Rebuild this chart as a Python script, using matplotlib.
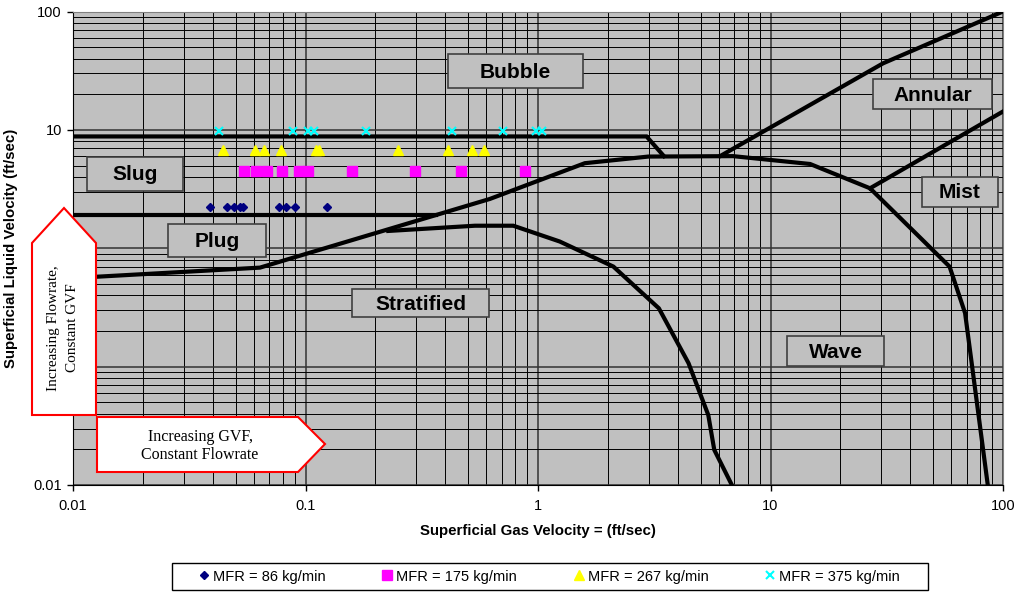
import matplotlib
matplotlib.use("Agg")
import matplotlib.pyplot as plt
from matplotlib.patches import Rectangle, Polygon
from matplotlib.ticker import LogLocator, FixedLocator, FixedFormatter, NullFormatter

plt.rcParams['font.family'] = ['Liberation Sans', 'DejaVu Sans']

# measured points, MFR series
x86 = [0.0387, 0.0458, 0.0494, 0.0523, 0.054, 0.0772, 0.0826, 0.0902, 0.1237]
y86 = [2.22] * len(x86)
x175 = [0.0545, 0.0614, 0.0683, 0.079, 0.094, 0.103, 0.158, 0.297, 0.468, 0.879]
y175 = [4.5] * len(x175)
x267 = [0.0443, 0.0607, 0.0665, 0.0782, 0.111, 0.1146, 0.249, 0.409, 0.52, 0.586]
y267 = [6.8] * len(x267)
x375 = [0.0425, 0.0887, 0.1022, 0.109, 0.1815, 0.426, 0.705, 0.977, 1.043]
y375 = [9.8] * len(x375)

# flow regime boundaries
bubble_x = [0.01, 2.93, 3.48]
bubble_y = [8.8, 8.8, 6.0]
main_x = [0.01, 0.0637, 0.621, 1.59, 2.98, 6.9, 14.8, 26.8, 58.9, 68.7, 86.0]
main_y = [0.56, 0.686, 2.61, 5.23, 5.95, 6.0, 5.15, 3.21, 0.70, 0.283, 0.01]
plug_x = [0.01, 0.364]
plug_y = [1.91, 1.91]
strat_x = [0.227, 0.536, 0.783, 1.24, 2.11, 3.31, 4.44, 5.40, 5.73, 6.82]
strat_y = [1.40, 1.55, 1.55, 1.14, 0.70, 0.311, 0.107, 0.039, 0.0198, 0.01]
ann_x = [6.07, 30.5, 100]
ann_y = [6.0, 36.5, 100]
mist_x = [26.8, 100]
mist_y = [3.21, 14.3]

ticks = [0.01, 0.1, 1, 10, 100]
xtick_labels = ['0.01', '0.1', '1', '10', '100']
# 0.1 and 1 sit under the arrow box in the original, so they are not shown
ytick_labels = ['0.01', '', '', '10', '100']

W, H = 1018, 592


def fx(x):
    return x / W


def fy(y):
    return 1 - y / H


fig = plt.figure(figsize=(W / 100, H / 100), dpi=100)
ax = fig.add_axes([fx(73), fy(485), (1003 - 73) / W, (485 - 11.5) / H])
ax.set_facecolor('#C0C0C0')
ax.set_xscale('log')
ax.set_yscale('log')
ax.set_xlim(0.01, 100)
ax.set_ylim(0.01, 100)

for axis, labs in ((ax.xaxis, xtick_labels), (ax.yaxis, ytick_labels)):
    axis.set_major_locator(FixedLocator(ticks))
    axis.set_major_formatter(FixedFormatter(labs))
    axis.set_minor_locator(LogLocator(base=10, subs=range(2, 10), numticks=20))
    axis.set_minor_formatter(NullFormatter())

ax.set_axisbelow(True)
ax.grid(True, which='major', color='#333333', lw=1.1)
ax.grid(True, which='minor', color='black', lw=0.7)
ax.tick_params(which='minor', length=0)
ax.tick_params(which='major', direction='out', length=4, width=1, labelsize=10.5, color='black')
ax.tick_params(axis='x', pad=6)
ax.tick_params(axis='y', pad=4)
for s in ('top', 'right'):
    ax.spines[s].set_color('#808080')
for s in ('left', 'bottom'):
    ax.spines[s].set_color('black')

ax.set_xlabel('Superficial Gas Velocity = (ft/sec)', fontsize=10.8, fontweight='bold', labelpad=8)
ax.set_ylabel('Superficial Liquid Velocity (ft/sec)', fontsize=10.8, fontweight='bold')
ax.yaxis.set_label_coords((18 - 73) / 930, 0.5)

lw = 3
for xs, ys in [(bubble_x, bubble_y), (main_x, main_y), (plug_x, plug_y),
               (strat_x, strat_y), (ann_x, ann_y), (mist_x, mist_y)]:
    ax.plot(xs, ys, color='black', lw=lw, solid_joinstyle='miter', zorder=3)

ax.plot(x86, y86, 'D', color='#000080', ms=4.3, mec='#000080', ls='none', zorder=4, label='MFR = 86 kg/min')
ax.plot(x175, y175, 's', color='#FF00FF', ms=6.5, mec='#FF00FF', ls='none', zorder=4, label='MFR = 175 kg/min')
ax.plot(x267, y267, '^', color='#FFFF00', ms=7, mec='#FFFF00', ls='none', zorder=4, label='MFR = 267 kg/min')
ax.plot(x375, y375, 'x', color='#00FFFF', ms=5.5, mew=1.5, ls='none', zorder=4, label='MFR = 375 kg/min')

# regime label boxes (pixel positions)
labels = [
    ('Bubble', 448, 54, 583, 88),
    ('Annular', 873, 79, 992, 109),
    ('Mist', 922, 177, 998, 207),
    ('Slug', 87, 157, 183, 191),
    ('Plug', 168, 224, 266, 257),
    ('Stratified', 352, 289, 489, 317),
    ('Wave', 787, 336, 884, 366),
]
for name, x0, y0, x1, y1 in labels:
    fig.add_artist(Rectangle((fx(x0), fy(y1)), (x1 - x0) / W, (y1 - y0) / H,
                             transform=fig.transFigure, fc='#C0C0C0', ec='#404040', lw=1.2, zorder=5))
    fig.text(fx((x0 + x1) / 2), fy((y0 + y1) / 2 + 1), name, ha='center', va='center',
             fontsize=15, fontweight='bold', zorder=6)

# arrows
up = [(64, 208), (96, 243), (96, 415), (32, 415), (32, 243)]
fig.add_artist(Polygon([(fx(a), fy(b)) for a, b in up], closed=True, transform=fig.transFigure,
                       fc='white', ec='red', lw=1.5, zorder=7))
fig.text(fx(54), fy(328), 'Increasing Flowrate,', rotation=90, ha='center', va='center',
         family=['Liberation Serif'], fontsize=11, zorder=8)
fig.text(fx(72), fy(328), 'Constant GVF', rotation=90, ha='center', va='center',
         family=['Liberation Serif'], fontsize=11, zorder=8)

right = [(97, 417), (298, 417), (325, 444), (298, 472), (97, 472)]
fig.add_artist(Polygon([(fx(a), fy(b)) for a, b in right], closed=True, transform=fig.transFigure,
                       fc='white', ec='red', lw=1.5, zorder=7))
fig.text(fx(200), fy(446), 'Increasing GVF,\nConstant Flowrate', ha='center', va='center',
         family=['Liberation Serif'], fontsize=11.5, linespacing=1.15, zorder=8)

# legend with a drawn frame
leg = fig.legend(loc='center', bbox_to_anchor=(fx(549), fy(576.5)), ncol=4, frameon=False,
                 fontsize=10.5, handlelength=0.8, handletextpad=0.2, columnspacing=3.85)
fig.add_artist(Rectangle((fx(172), fy(590)), (928 - 172) / W, (590 - 563) / H,
                         transform=fig.transFigure, fc='none', ec='black', lw=1, zorder=9))

fig.savefig('out.png', dpi=100)
